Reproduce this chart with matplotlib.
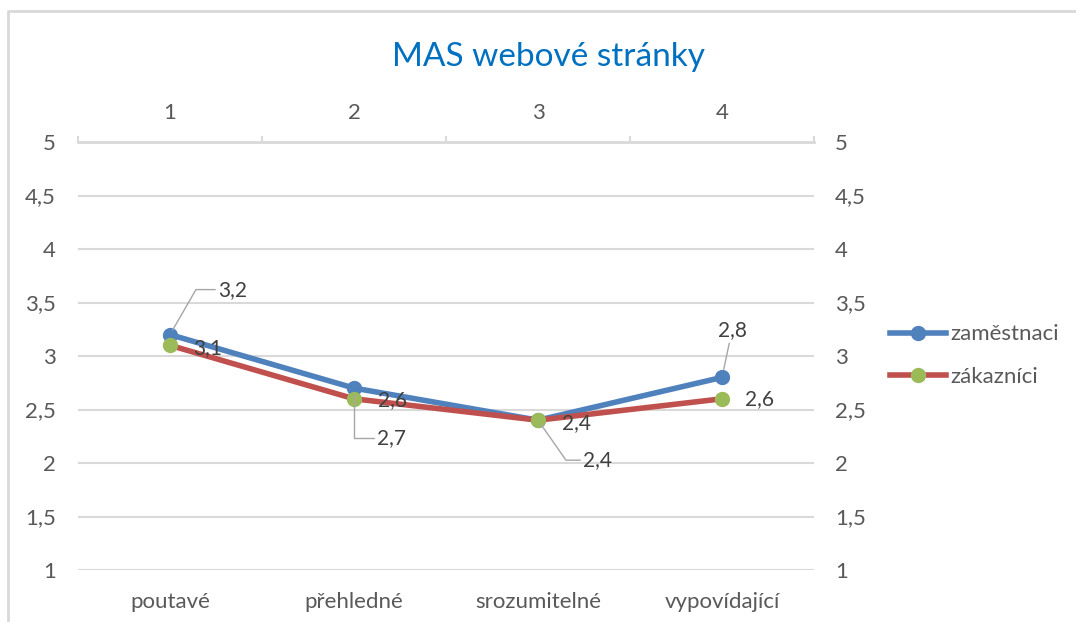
import numpy as np
import matplotlib.pyplot as plt
from matplotlib.lines import Line2D

plt.rcParams['font.family'] = ['Lato', 'DejaVu Sans']

# data
categories = ['poutavé', 'přehledné', 'srozumitelné', 'vypovídající']
top_labels = ['1', '2', '3', '4']
zamestnanci = [3.2, 2.7, 2.4, 2.8]
zakaznici = [3.1, 2.6, 2.4, 2.6]
yticks = [1, 1.5, 2, 2.5, 3, 3.5, 4, 4.5, 5]

BLUE = '#4F81BD'
RED = '#C0504D'
GREEN = '#9BBB59'
GRID = '#D9D9D9'
TXT = '#595959'
LBL = '#404040'
LEAD = '#A6A6A6'
FS = 15
FS_AX = 16


def fmt(v):
    return f'{v:g}'.replace('.', ',')


fig = plt.figure(figsize=(10.76, 6.22), dpi=100)
ax = fig.add_axes([78 / 1076, 1 - 570 / 622, 736 / 1076, 428 / 622])

x = np.arange(len(categories))
ax.plot(x, zamestnanci, color=BLUE, lw=4, marker='o', ms=10,
        mfc=BLUE, mec=BLUE, zorder=3, label='zaměstnaci')
ax.plot(x, zakaznici, color=RED, lw=4, marker='o', ms=10,
        mfc=GREEN, mec=GREEN, zorder=4, label='zákazníci')

ax.set_xlim(-0.5, len(categories) - 0.5)
ax.set_ylim(1, 5)
ax.set_yticks(yticks, [fmt(v) for v in yticks])
ax.yaxis.grid(True, color=GRID, lw=1.5)
ax.set_axisbelow(True)
for s in ax.spines.values():
    s.set_visible(False)
ax.tick_params(axis='y', length=0, pad=16, labelsize=FS_AX, labelcolor=TXT)
ax.set_xticks(x, categories)
ax.tick_params(axis='x', length=0, pad=16, labelsize=FS_AX, labelcolor=TXT)

# top axis with numbers
sec = ax.secondary_xaxis('top')
sec.set_xticks(x, top_labels)
sec.set_xticks(np.arange(len(categories) + 1) - 0.5, minor=True)
sec.tick_params(axis='x', which='major', length=0, pad=14, labelsize=FS_AX, labelcolor=TXT)
sec.tick_params(axis='x', which='minor', length=4.5, width=1.5, color=GRID, direction='out')
sec.spines['top'].set_color(GRID)
sec.spines['top'].set_linewidth(2)

# right axis
ax2 = ax.twinx()
ax2.set_ylim(1, 5)
ax2.set_yticks(yticks, [fmt(v) for v in yticks])
ax2.tick_params(axis='y', length=0, pad=15, labelsize=FS_AX, labelcolor=TXT)
for s in ax2.spines.values():
    s.set_visible(False)

# data labels
lab = dict(textcoords='offset pixels', va='center', fontsize=FS, color=LBL, zorder=6)
ax.annotate(fmt(zamestnanci[0]), (x[0], zamestnanci[0]), xytext=(48, 45), ha='left',
            arrowprops=dict(arrowstyle='-', color=LEAD, lw=1, shrinkA=0, shrinkB=4,
                            connectionstyle='angle,angleA=180,angleB=60,rad=0'), **lab)
ax.annotate(fmt(zakaznici[0]), (x[0], zakaznici[0]), xytext=(23, -3), ha='left', **lab)
ax.annotate(fmt(zakaznici[1]), (x[1], zakaznici[1]), xytext=(24, -1), ha='left', **lab)
ax.annotate(fmt(zamestnanci[1]), (x[1], zamestnanci[1]), xytext=(23, -50), ha='left',
            arrowprops=dict(arrowstyle='-', color=LEAD, lw=1, shrinkA=0, shrinkB=4,
                            connectionstyle='angle,angleA=180,angleB=90,rad=0'), **lab)
ax.annotate(fmt(zakaznici[2]), (x[2], zakaznici[2]), xytext=(24, -3), ha='left', **lab)
ax.annotate(fmt(zamestnanci[2]), (x[2], zamestnanci[2]), xytext=(45, -40), ha='left',
            arrowprops=dict(arrowstyle='-', color=LEAD, lw=1, shrinkA=0, shrinkB=4,
                            connectionstyle='angle,angleA=180,angleB=-55,rad=0'), **lab)
ax.annotate(fmt(zamestnanci[3]), (x[3], zamestnanci[3]), xytext=(10, 47), ha='center',
            arrowprops=dict(arrowstyle='-', color=LEAD, lw=1, shrinkA=0, shrinkB=6), **lab)
ax.annotate(fmt(zakaznici[3]), (x[3], zakaznici[3]), xytext=(23, 0), ha='left', **lab)

# title
fig.text(549 / 1076, 1 - 57 / 622, 'MAS webové stránky', ha='center', va='center',
         fontsize=24, color='#0070C0')

# legend
h, l = ax.get_legend_handles_labels()
fig.legend(h, l, loc='center left', bbox_to_anchor=(890 / 1076, 1 - 355.5 / 622),
           frameon=False, fontsize=FS_AX, labelcolor=TXT, handlelength=2.5,
           handletextpad=0.2, labelspacing=1.0, borderpad=0, borderaxespad=0)

# chart frame (cropped)
fig.add_artist(Line2D([8 / 1076, 8 / 1076, 1], [0, 1 - 11 / 622, 1 - 11 / 622],
                      transform=fig.transFigure, color=GRID, lw=2))

fig.savefig('out.png', dpi=100)
